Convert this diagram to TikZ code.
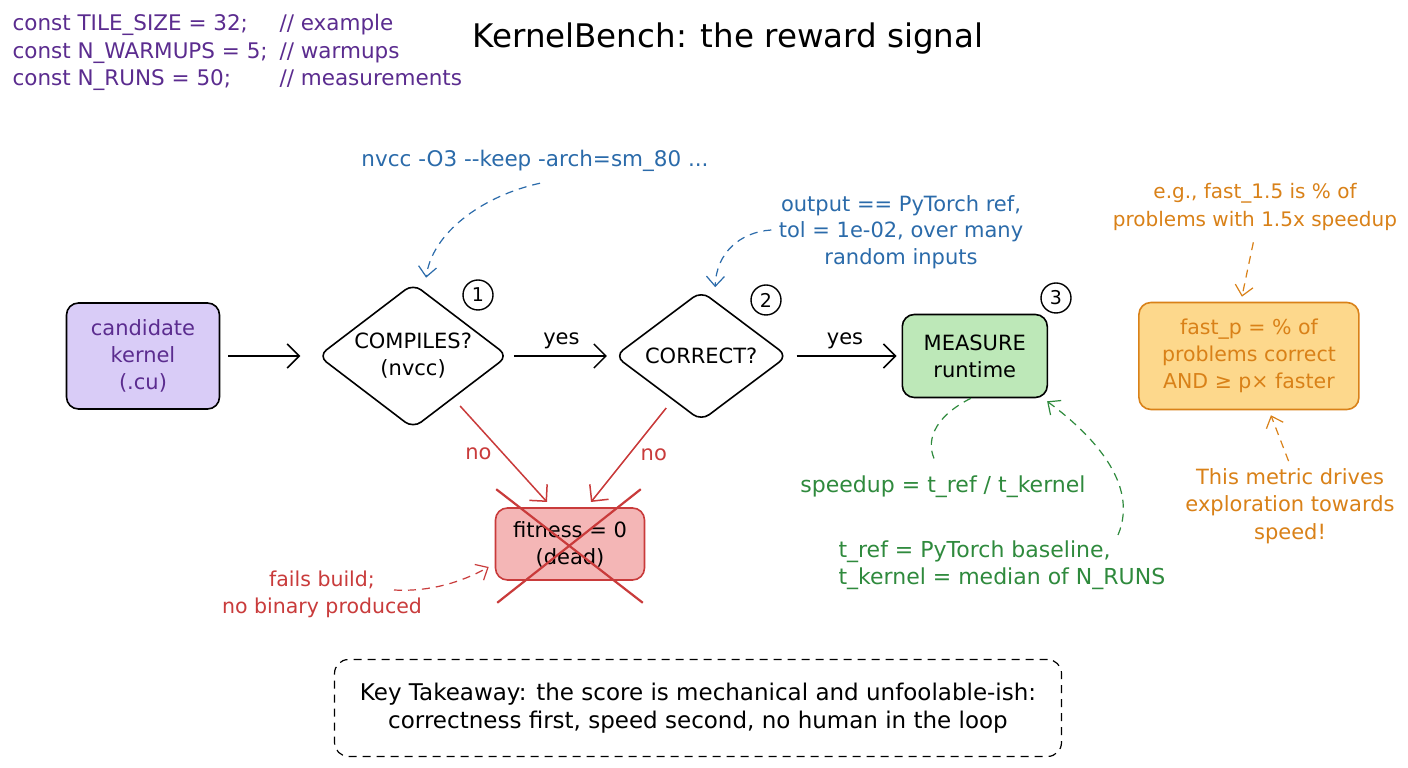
\documentclass[tikz,border=0pt]{standalone}
\usepackage{fontspec}
\setmainfont{DejaVu Sans}
\usepackage{tikz}
\usetikzlibrary{arrows.meta}
\usetikzlibrary{positioning}
\usetikzlibrary{shapes}

\definecolor{kpurple}{HTML}{5B2C8F}
\definecolor{kpurplefill}{HTML}{D9CCF7}
\definecolor{kblue}{HTML}{2B6BAA}
\definecolor{kred}{HTML}{C93B3B}
\definecolor{kredfill}{HTML}{F4B6B6}
\definecolor{kgreen}{HTML}{2F8A3D}
\definecolor{kgreenfill}{HTML}{BDE8B8}
\definecolor{korange}{HTML}{D98118}
\definecolor{korangefill}{HTML}{FDD88C}

\newcommand{\codeline}[2]{\makebox[267pt][l]{#1}#2}

\begin{document}
\begin{tikzpicture}[x=1pt, y=1pt, font=\fontsize{21}{27}\selectfont,
    box/.style={draw, rounded corners=12pt, line width=1.6pt, align=center},
    decision/.style={draw, diamond, aspect=1.31, rounded corners=10pt, line width=1.6pt, align=center, inner sep=0pt},
    num/.style={draw, circle, line width=1.4pt, minimum size=30pt, inner sep=0pt, font=\fontsize{19}{22}\selectfont},
    flow/.style={line width=1.5pt, -{Straight Barb[length=12pt, width=24pt]}},
    dashline/.style={line width=1.2pt, dash pattern=on 8pt off 6pt},
    note/.style={dashline, -{Straight Barb[length=10pt, width=18pt]}}]
  \useasboundingbox (0,0) rectangle (1408,768);
  \fill[white] (0,0) rectangle (1408,768);

  \node[anchor=north west, align=left, text=kpurple, font=\fontsize{21.5}{27.5}\selectfont] (consts) at (9,757)
    {\codeline{const TILE\_SIZE = 32;}{// example}\\\codeline{const N\_WARMUPS = 5;}{// warmups}\\\codeline{const N\_RUNS = 50;}{// measurements}};
  \node[anchor=base, font=\fontsize{32.5}{38}\selectfont] (title) at (728,720) {KernelBench: the reward signal};

  \node[box, fill=kpurplefill, text=kpurple, minimum width=153pt, minimum height=106pt] (cand) at (143,412) {candidate\\kernel\\(.cu)};
  \node[decision, minimum width=190pt, minimum height=145pt, right=97pt of cand] (comp) {COMPILES?\\(nvcc)};
  \node[decision, minimum width=173pt, minimum height=130pt, right=105pt of comp] (corr) {CORRECT?};
  \node[box, fill=kgreenfill, minimum width=145pt, minimum height=83pt, right=113pt of corr] (meas) {MEASURE\\runtime};
  \node[box, draw=korange, fill=korangefill, text=korange, minimum width=220pt, minimum height=107pt, right=90pt of meas, font=\fontsize{20.5}{27}\selectfont] (fastp) {fast\_p = \% of\\problems correct\\AND ≥ p× faster};
  \node[box, draw=kred, fill=kredfill, minimum width=149pt, minimum height=72pt] (fit) at (570,224) {fitness = 0\\(dead)};

  \node[num] (n1) at (478,473) {1};
  \node[num] (n2) at (766,468) {2};
  \node[num] (n3) at (1056,470) {3};

  \draw[flow, shorten <=8pt, shorten >=17pt] (cand) -- (comp);
  \draw[flow, shorten <=5pt, shorten >=7pt] (comp) -- node[above=3pt] {yes} (corr);
  \draw[flow, shorten <=8pt, shorten >=5pt] (corr) -- node[above=3pt] {yes} (meas);

  \draw[flow, kred] ([shift={(47,-50)}]comp.center) -- node[left=8pt] {no} ([shift={(-23,42)}]fit.center);
  \draw[flow, kred] ([shift={(-35,-52)}]corr.center) -- node[right=8pt] {no} ([shift={(21,42)}]fit.center);
  \draw[kred, line width=2.2pt] ([shift={(1.5,18)}]fit.north west) -- ([shift={(-2.5,-22)}]fit.south east);
  \draw[kred, line width=2.2pt] ([shift={(-4.5,18)}]fit.north east) -- ([shift={(2.5,-22)}]fit.south west);

  \node[text=kblue, font=\fontsize{21.5}{27}\selectfont] (nvcc) at (535,607) {nvcc -O3 -\kern0pt-keep -arch=sm\_80 ...};
  \draw[note, kblue] ([shift={(5,-8)}]nvcc.south) .. controls (482,572) and (432,535) .. ([shift={(13,5)}]comp.north);

  \node[text=kblue, align=center, font=\fontsize{21}{26.5}\selectfont] (outp) at (901,536) {output == PyTorch ref,\\tol = 1e-02, over many\\random inputs};
  \draw[note, kblue] ([shift={(-4,2)}]outp.west) .. controls (740,536) and (716,515) .. ([shift={(14,3)}]corr.north);

  \node[text=korange, align=center, font=\fontsize{20}{28.5}\selectfont] (eg) at (1255,561) {e.g., fast\_1.5 is \% of\\problems with 1.5x speedup};
  \draw[note, korange, shorten <=8pt] (eg.south) -- ([shift={(-7,5)}]fastp.north);

  \node[text=korange, align=center, font=\fontsize{21}{27.5}\selectfont] (drive) at (1290,262) {This metric drives\\exploration towards\\speed!};
  \draw[note, korange, shorten <=4pt] (drive.north) -- ([shift={(22,-5)}]fastp.south);

  \node[text=kgreen, font=\fontsize{22}{27}\selectfont] (spd) at (943,281) {speedup = t\_ref / t\_kernel};
  \draw[dashline, kgreen] ([xshift=-4pt]meas.south) .. controls (932,350) and (925,325) .. ([shift={(-7,10)}]spd.north);

  \node[text=kgreen, align=left, anchor=west, font=\fontsize{22}{27}\selectfont] (tref) at (835,203) {t\_ref = PyTorch baseline,\\t\_kernel = median of N\_RUNS};
  \draw[note, kgreen] (1118,233) .. controls (1140,285) and (1090,335) .. ([shift={(-1,-3)}]meas.south east);

  \node[text=kred, align=center, font=\fontsize{20.5}{27}\selectfont] (fails) at (322,174) {fails build;\\no binary produced};
  \draw[note, kred] ([shift={(72,4)}]fails.center) .. controls (430,176) and (462,186) .. ([shift={(-6,-23)}]fit.west);

  \node[draw, dashline, rounded corners=14pt, minimum width=727pt, minimum height=97pt, align=center, font=\fontsize{23}{28}\selectfont] (take) at (698,60)
    {Key Takeaway: the score is mechanical and unfoolable-ish:\\correctness first, speed second, no human in the loop};
\end{tikzpicture}
\end{document}
